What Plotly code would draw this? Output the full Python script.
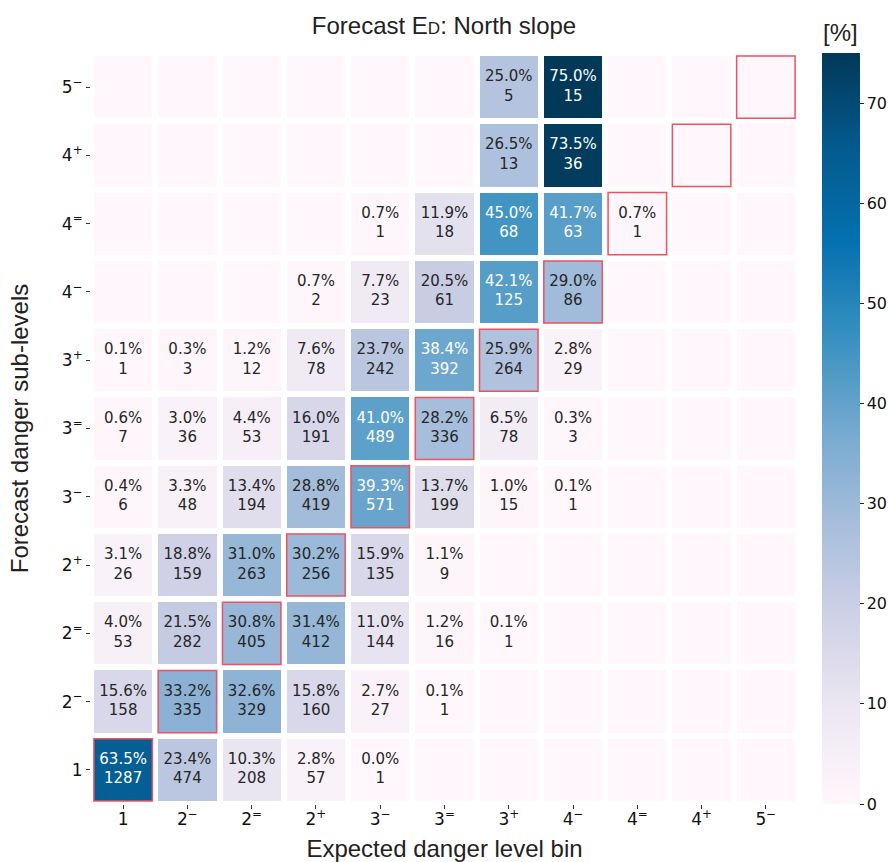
import plotly.graph_objects as go

# Sub-level bins (expected on x, forecast on y, bottom-to-top)
levels = ["1", "2<sup>−</sup>", "2<sup>=</sup>", "2<sup>+</sup>", "3<sup>−</sup>", "3<sup>=</sup>",
          "3<sup>+</sup>", "4<sup>−</sup>", "4<sup>=</sup>", "4<sup>+</sup>", "5<sup>−</sup>"]

# Row-normalised percentages, one list per forecast sub-level (None = no cases)
pct_1  = [63.5, 23.4, 10.3, 2.8, 0.0, None, None, None, None, None, None]
pct_2m = [15.6, 33.2, 32.6, 15.8, 2.7, 0.1, None, None, None, None, None]
pct_2e = [4.0, 21.5, 30.8, 31.4, 11.0, 1.2, 0.1, None, None, None, None]
pct_2p = [3.1, 18.8, 31.0, 30.2, 15.9, 1.1, None, None, None, None, None]
pct_3m = [0.4, 3.3, 13.4, 28.8, 39.3, 13.7, 1.0, 0.1, None, None, None]
pct_3e = [0.6, 3.0, 4.4, 16.0, 41.0, 28.2, 6.5, 0.3, None, None, None]
pct_3p = [0.1, 0.3, 1.2, 7.6, 23.7, 38.4, 25.9, 2.8, None, None, None]
pct_4m = [None, None, None, 0.7, 7.7, 20.5, 42.1, 29.0, None, None, None]
pct_4e = [None, None, None, None, 0.7, 11.9, 45.0, 41.7, 0.7, None, None]
pct_4p = [None, None, None, None, None, None, 26.5, 73.5, None, None, None]
pct_5m = [None, None, None, None, None, None, 25.0, 75.0, None, None, None]

# Case counts per cell
cnt_1  = [1287, 474, 208, 57, 1, None, None, None, None, None, None]
cnt_2m = [158, 335, 329, 160, 27, 1, None, None, None, None, None]
cnt_2e = [53, 282, 405, 412, 144, 16, 1, None, None, None, None]
cnt_2p = [26, 159, 263, 256, 135, 9, None, None, None, None, None]
cnt_3m = [6, 48, 194, 419, 571, 199, 15, 1, None, None, None]
cnt_3e = [7, 36, 53, 191, 489, 336, 78, 3, None, None, None]
cnt_3p = [1, 3, 12, 78, 242, 392, 264, 29, None, None, None]
cnt_4m = [None, None, None, 2, 23, 61, 125, 86, None, None, None]
cnt_4e = [None, None, None, None, 1, 18, 68, 63, 1, None, None]
cnt_4p = [None, None, None, None, None, None, 13, 36, None, None, None]
cnt_5m = [None, None, None, None, None, None, 5, 15, None, None, None]

pct_rows = [pct_1, pct_2m, pct_2e, pct_2p, pct_3m, pct_3e, pct_3p, pct_4m, pct_4e, pct_4p, pct_5m]
cnt_rows = [cnt_1, cnt_2m, cnt_2e, cnt_2p, cnt_3m, cnt_3e, cnt_3p, cnt_4m, cnt_4e, cnt_4p, cnt_5m]

n = len(levels)
idx = list(range(n))

# Figure geometry (px)
W, H = 889, 862
ML, MR, MT, MB = 91, 91, 53, 58
PW, PH = W - ML - MR, H - MT - MB

# Empty cells take the lowest colour of the scale
z = [[(v if v is not None else 0.0) for v in row] for row in pct_rows]

fig = go.Figure()
fig.add_trace(go.Heatmap(
    z=z, x=idx, y=idx,
    colorscale="PuBu", zmin=0, zmax=75,
    xgap=6, ygap=6,
    hoverinfo="skip",
    colorbar=dict(
        x=(822 - ML) / PW, xanchor="left", y=0.5, yanchor="middle",
        len=1.0, lenmode="fraction", thickness=38, xpad=0, ypad=0,
        outlinewidth=0, ticks="outside", ticklen=4, tickcolor="#222",
        tickvals=[0, 10, 20, 30, 40, 50, 60, 70],
        tickfont=dict(family="DejaVu Sans", size=16, color="#111"),
    ),
))

# Cell annotations: percentage and count
tx, ty, tt, tc = [], [], [], []
for r in range(n):
    for c in range(n):
        p = pct_rows[r][c]
        k = cnt_rows[r][c]
        if p is None:
            continue
        tx.append(c)
        ty.append(r)
        tt.append(f"{p:.1f}%<br>{k}")
        tc.append("white" if p > 35 else "#262626")

fig.add_trace(go.Scatter(
    x=tx, y=ty, text=tt, mode="text",
    textposition="middle center",
    textfont=dict(family="DejaVu Sans", size=15, color=tc),
    hoverinfo="skip", showlegend=False,
))

# Outline the diagonal (forecast bin == expected bin)
hx, hy = 0.455, 0.455
for i in idx:
    fig.add_shape(type="rect", xref="x", yref="y",
                  x0=i - hx, x1=i + hx, y0=i - hy, y1=i + hy,
                  line=dict(color="#f0505f", width=1.5), fillcolor="rgba(0,0,0,0)")

axis_style = dict(
    range=[-0.5, n - 0.5], tickvals=idx, ticktext=levels,
    showgrid=False, zeroline=False, showline=False,
    ticks="outside", ticklen=4, tickcolor="#333",
    tickfont=dict(family="DejaVu Sans", size=17, color="#111"),
)
fig.update_xaxes(
    **axis_style,
    ticklabelstandoff=-4,
    title=dict(text="Expected danger level bin",
               font=dict(family="Liberation Sans", size=24, color="#222"), standoff=20),
)
fig.update_yaxes(
    **axis_style,
    title=dict(text="Forecast danger sub-levels",
               font=dict(family="Liberation Sans", size=24, color="#222"), standoff=26),
)

fig.add_annotation(
    x=(840 - ML) / PW, y=(H - MB - 33) / PH, xref="paper", yref="paper",
    text="[%]", showarrow=False, xanchor="center", yanchor="middle",
    font=dict(family="Liberation Sans", size=24, color="#222"),
)

fig.update_layout(
    width=W, height=H,
    margin=dict(l=ML, r=MR, t=MT, b=MB, autoexpand=False),
    paper_bgcolor="white", plot_bgcolor="white",
    title=dict(
        text="Forecast E<span style='font-size:17px'>D</span>: North slope",
        x=444 / W, xanchor="center", y=1 - 26 / H, yanchor="middle",
        font=dict(family="Liberation Sans", size=24, color="#222"),
    ),
    showlegend=False,
)

fig.write_html("out.html")
